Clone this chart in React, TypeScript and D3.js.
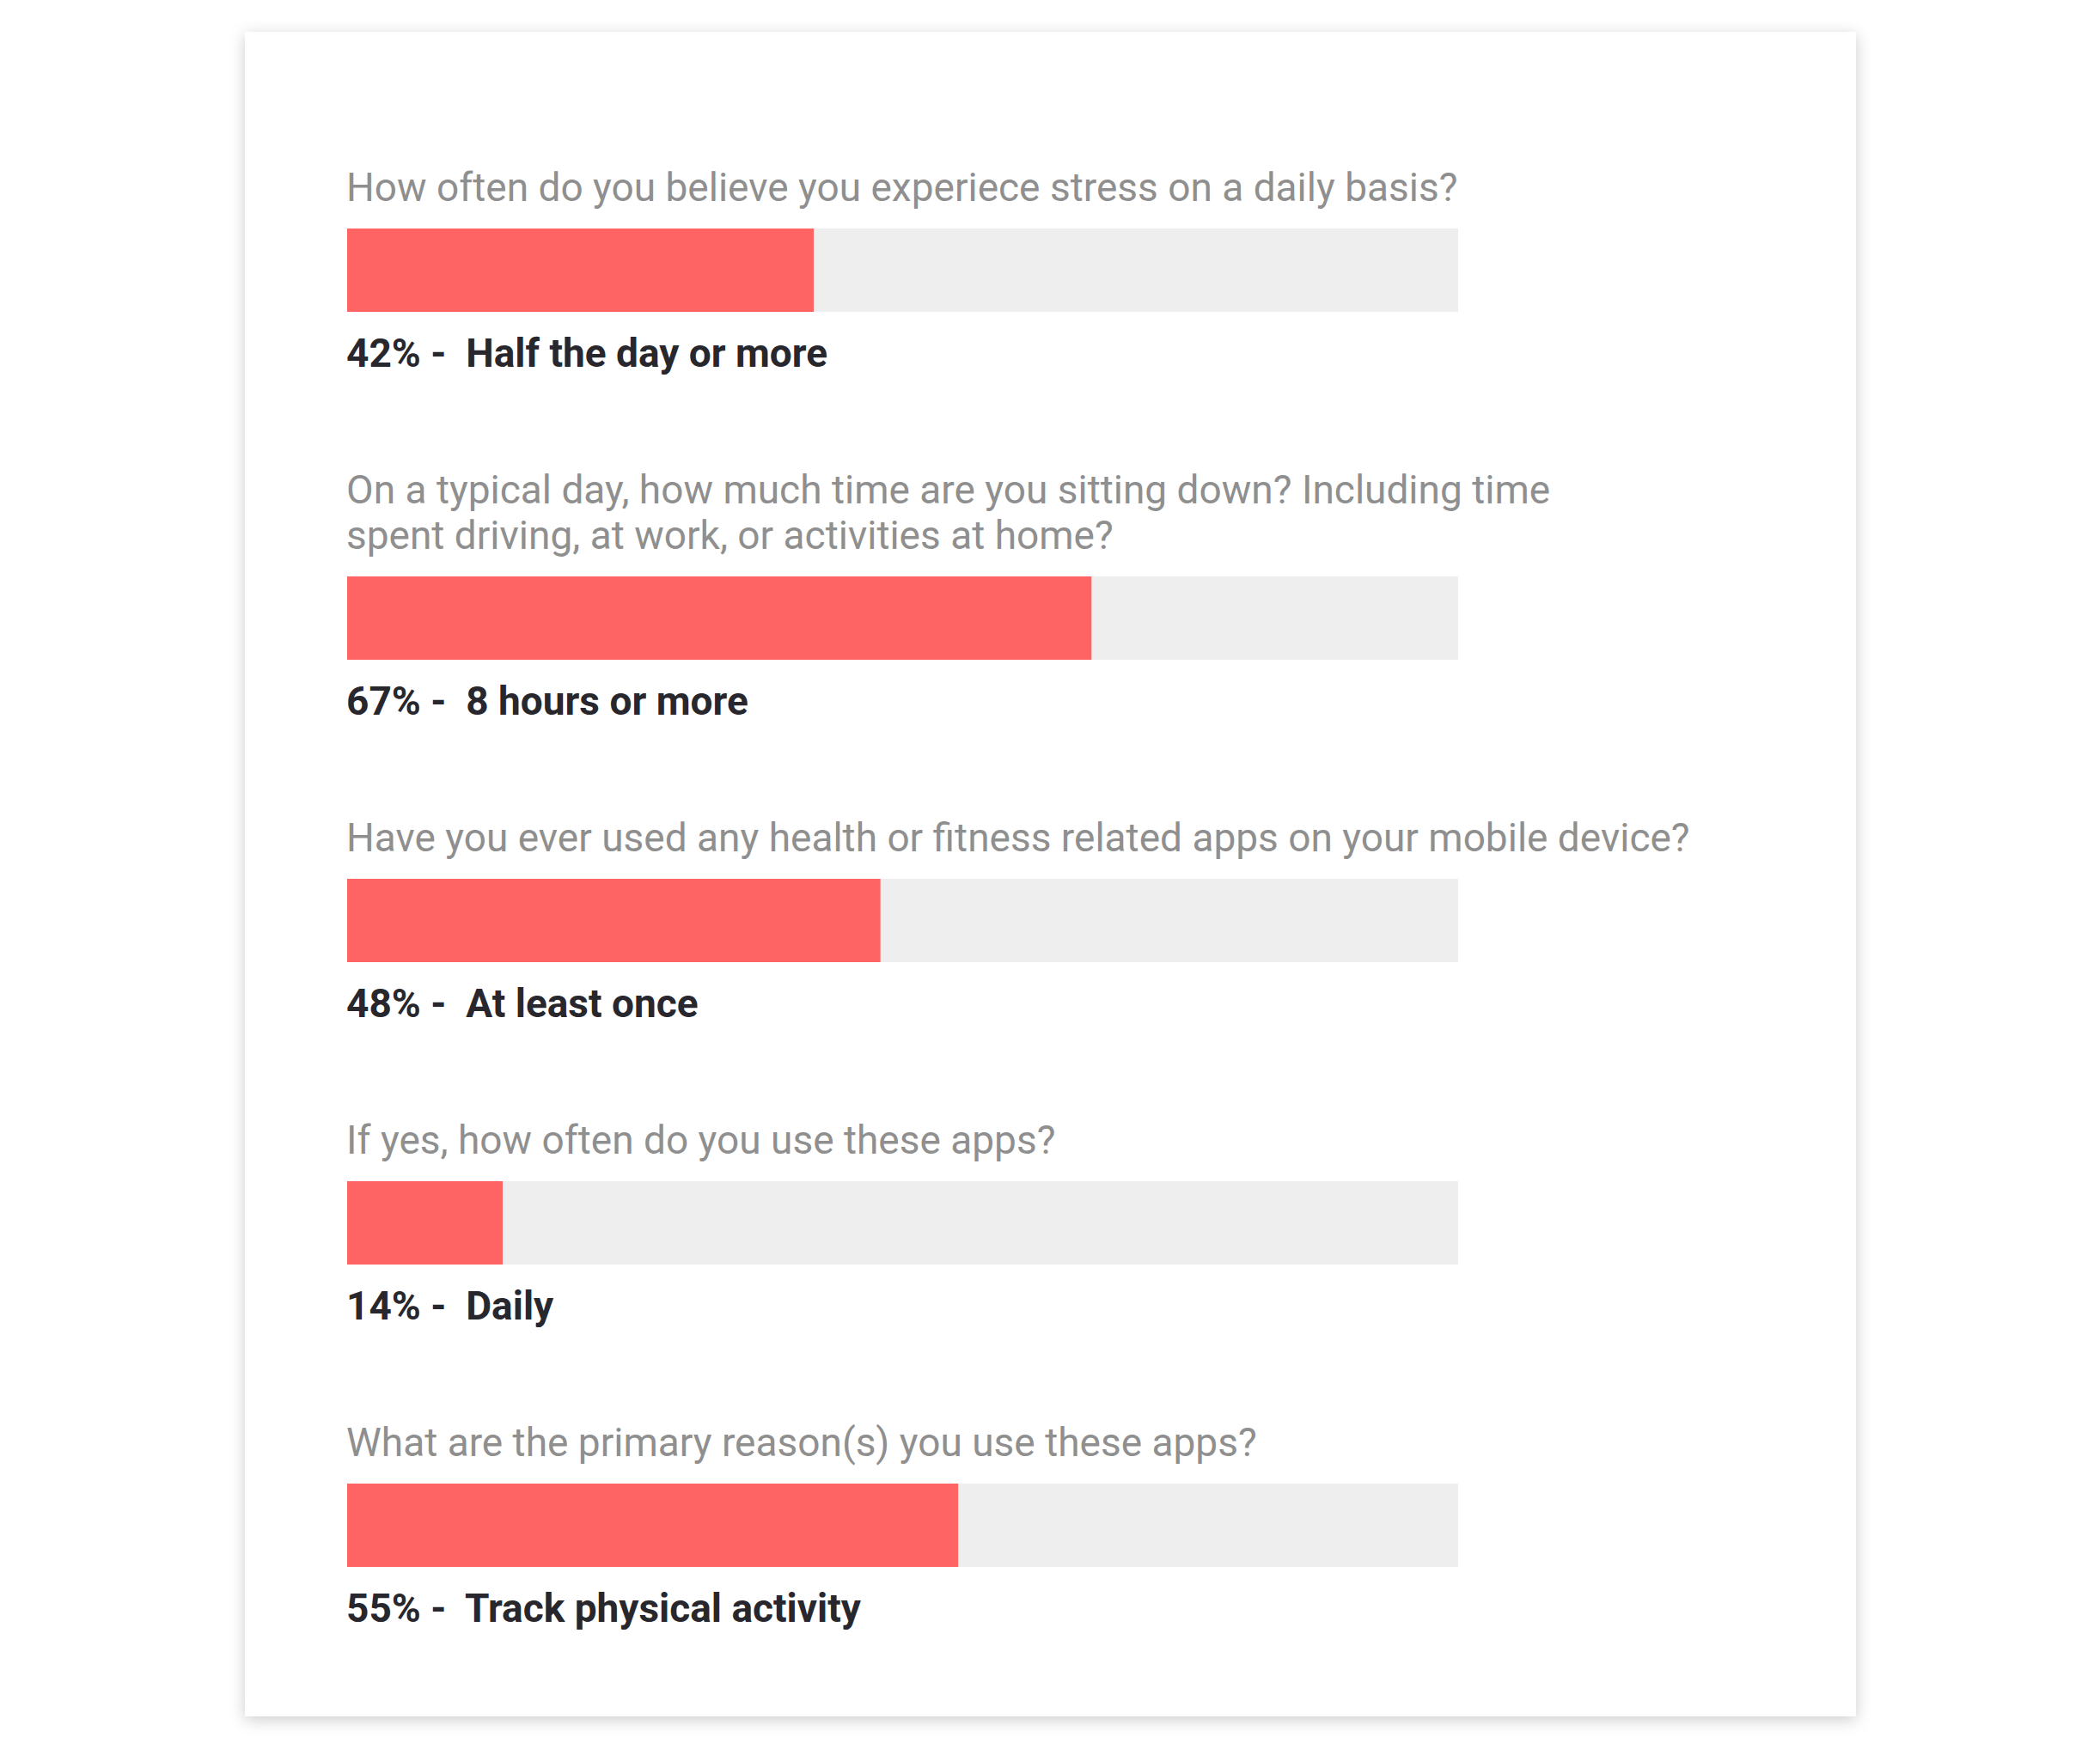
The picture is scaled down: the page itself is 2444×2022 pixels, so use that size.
import React, { useEffect, useRef } from 'react'
import * as d3 from 'd3'

// survey answers, one bar per question
const questions: string[][] = [
  ['How often do you believe you experiece stress on a daily basis?'],
  ['On a typical day, how much time are you sitting down? Including time', 'spent driving, at work, or activities at home?'],
  ['Have you ever used any health or fitness related apps on your mobile device?'],
  ['If yes, how often do you use these apps?'],
  ['What are the primary reason(s) you use these apps?'],
]
const percents: number[] = [42, 67, 48, 14, 55]
const answers: string[] = ['Half the day or more', '8 hours or more', 'At least once', 'Daily', 'Track physical activity']

export default function App() {
  const svgRef = useRef<SVGSVGElement>(null)

  useEffect(() => {
    const W = 2444
    const H = 2022
    const svg = d3.select(svgRef.current).attr('width', W).attr('height', H)
    svg.selectAll('*').remove()

    // card shadow
    const defs = svg.append('defs')
    const f = defs.append('filter').attr('id', 'shadow')
      .attr('x', '-5%').attr('y', '-5%').attr('width', '110%').attr('height', '110%')
    f.append('feDropShadow').attr('dx', 0).attr('dy', 4).attr('stdDeviation', 9)
      .attr('flood-color', '#000').attr('flood-opacity', 0.2)

    svg.append('rect')
      .attr('x', 285).attr('y', 37).attr('width', 1875).attr('height', 1961)
      .attr('fill', '#fff').attr('filter', 'url(#shadow)')

    const left = 404
    const barW = 1293
    const barH = 97
    const lineH = 53
    const x = d3.scaleLinear().domain([0, 100]).range([0, barW])

    let top = 266 // first bar top
    questions.forEach((lines, i) => {
      const g = svg.append('g')
      const extra = (lines.length - 1) * lineH
      const barTop = top + extra

      g.selectAll('text.q')
        .data(lines)
        .join('text')
        .attr('class', 'q')
        .attr('x', left - 1)
        .attr('y', (_d, j) => barTop - 32 - (lines.length - 1 - j) * lineH)
        .text(d => d)
        .style('font-family', 'Roboto')
        .style('font-size', '46px')
        .style('fill', '#8f8f8f')

      g.append('rect')
        .attr('x', left).attr('y', barTop)
        .attr('width', barW).attr('height', barH)
        .attr('fill', '#eeeeee')

      g.append('rect')
        .attr('x', left).attr('y', barTop)
        .attr('width', x(percents[i])).attr('height', barH)
        .attr('fill', '#ff6464')

      g.append('text')
        .attr('x', left - 1)
        .attr('y', barTop + barH + 64)
        .attr('xml:space', 'preserve')
        .style('white-space', 'pre')
        .text(`${percents[i]}% -  ${answers[i]}`)
        .style('font-family', 'Roboto')
        .style('font-size', '46px')
        .style('font-weight', '700')
        .style('fill', '#27272d')

      top = barTop + 352
    })
  }, [])

  return <svg ref={svgRef} style={{ position: 'absolute', left: 0, top: 0 }}></svg>
}
